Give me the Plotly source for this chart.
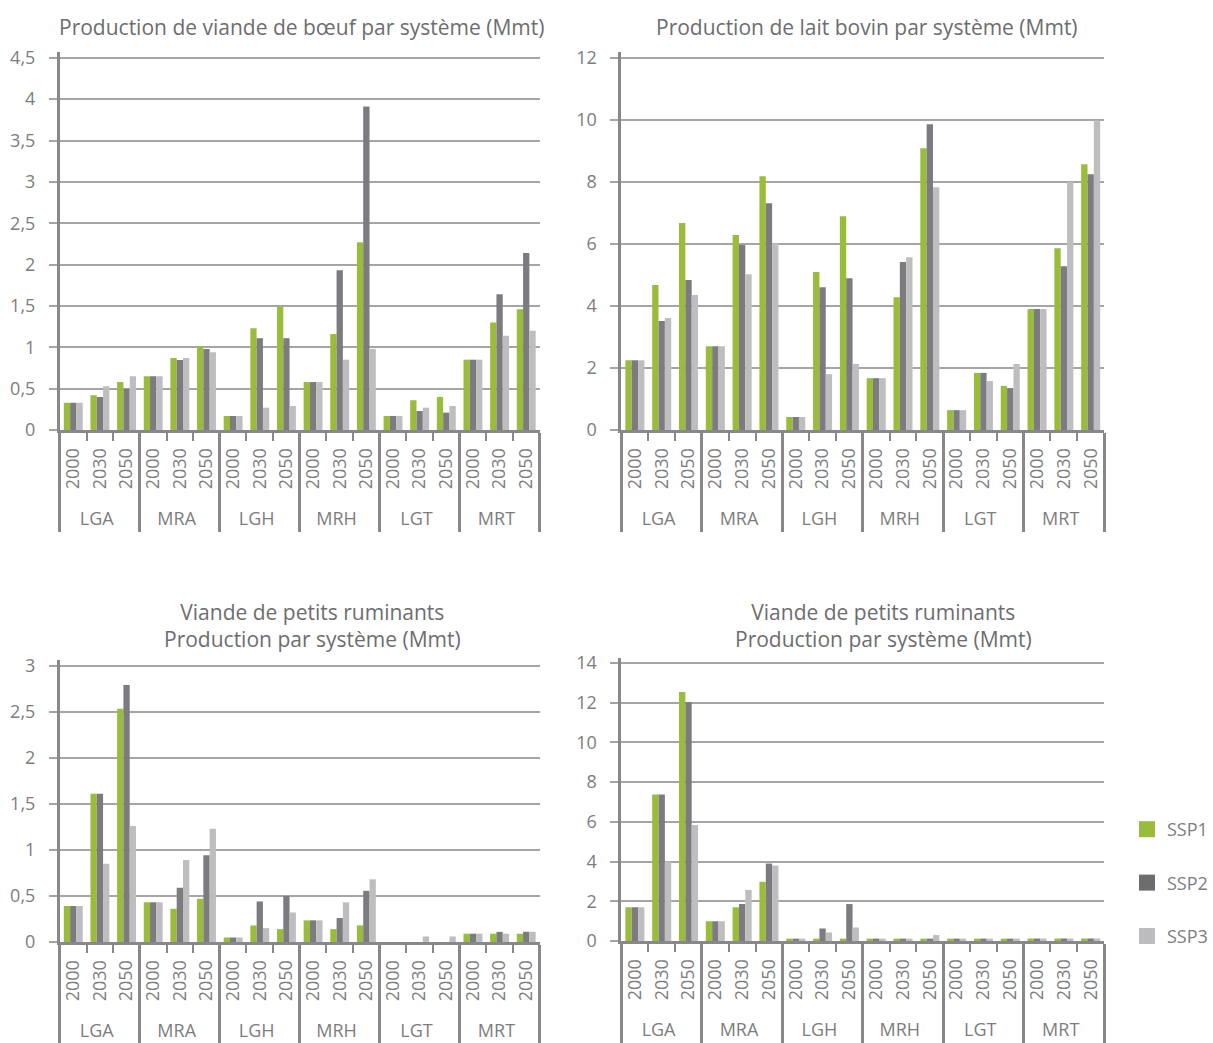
import plotly.graph_objects as go

groups = ["LGA", "MRA", "LGH", "MRH", "LGT", "MRT"]
years = ["2000", "2030", "2050"]
series_names = ["SSP1", "SSP2", "SSP3"]

beef_ssp1 = [0.33, 0.42, 0.58, 0.65, 0.87, 1.01, 0.17, 1.23, 1.49, 0.58, 1.16, 2.27, 0.17, 0.36, 0.40, 0.85, 1.30, 1.46]
beef_ssp2 = [0.33, 0.40, 0.50, 0.65, 0.845, 0.98, 0.17, 1.11, 1.11, 0.58, 1.93, 3.91, 0.17, 0.23, 0.21, 0.85, 1.64, 2.14]
beef_ssp3 = [0.33, 0.53, 0.65, 0.65, 0.87, 0.94, 0.17, 0.27, 0.29, 0.58, 0.85, 0.98, 0.17, 0.27, 0.29, 0.85, 1.14, 1.20]

milk_ssp1 = [2.25, 4.67, 6.67, 2.70, 6.28, 8.18, 0.42, 5.09, 6.89, 1.67, 4.28, 9.08, 0.64, 1.84, 1.42, 3.90, 5.86, 8.56]
milk_ssp2 = [2.25, 3.51, 4.83, 2.70, 5.96, 7.31, 0.42, 4.60, 4.89, 1.67, 5.41, 9.85, 0.64, 1.84, 1.35, 3.90, 5.28, 8.24]
milk_ssp3 = [2.25, 3.61, 4.35, 2.70, 5.02, 6.02, 0.42, 1.80, 2.13, 1.67, 5.57, 7.82, 0.64, 1.58, 2.13, 3.90, 7.99, 9.98]

small_ssp1 = [0.39, 1.61, 2.53, 0.43, 0.36, 0.47, 0.05, 0.18, 0.14, 0.235, 0.14, 0.18, 0.0, 0.0, 0.0, 0.09, 0.09, 0.09]
small_ssp2 = [0.39, 1.61, 2.79, 0.43, 0.59, 0.94, 0.05, 0.44, 0.50, 0.235, 0.26, 0.555, 0.0, 0.0, 0.0, 0.09, 0.11, 0.11]
small_ssp3 = [0.39, 0.85, 1.26, 0.43, 0.89, 1.23, 0.05, 0.15, 0.32, 0.235, 0.43, 0.68, 0.0, 0.06, 0.06, 0.09, 0.09, 0.11]

small2_ssp1 = [1.70, 7.38, 12.54, 0.99, 1.70, 2.98, 0.12, 0.12, 0.12, 0.12, 0.12, 0.12, 0.12, 0.12, 0.12, 0.12, 0.12, 0.12]
small2_ssp2 = [1.70, 7.38, 12.03, 0.99, 1.86, 3.90, 0.12, 0.63, 1.86, 0.12, 0.12, 0.12, 0.12, 0.12, 0.12, 0.12, 0.12, 0.12]
small2_ssp3 = [1.70, 4.00, 5.84, 0.99, 2.57, 3.80, 0.12, 0.43, 0.68, 0.12, 0.12, 0.30, 0.12, 0.12, 0.12, 0.12, 0.12, 0.12]

titles = [
    "Production de viande de bœuf par système (Mmt)",
    "Production de lait bovin par système (Mmt)",
    "Viande de petits ruminants<br>Production par système (Mmt)",
    "Viande de petits ruminants<br>Production par système (Mmt)",
]

panels = [
    (beef_ssp1, beef_ssp2, beef_ssp3),
    (milk_ssp1, milk_ssp2, milk_ssp3),
    (small_ssp1, small_ssp2, small_ssp3),
    (small2_ssp1, small2_ssp2, small2_ssp3),
]
y_ranges = [(0, 4.57, 0.5), (0, 12.18, 2), (0, 3.06, 0.5), (0, 14.25, 2)]

colors = ["#99BC3A", "#7C7C80", "#BEBEC0"]
legend_colors = ["#99BC3A", "#6C6C71", "#BCBCBF"]
FONT = "Open Sans"
TXT = "#7d7d80"
GRID = "#a5a5a8"
AXIS = "#88888b"

W, H = 1213, 1043


def fx(px):
    return px / W


def fy(py):
    return 1 - py / H


# plot area pixel boxes: (x0, x1, ytop, ybottom)
boxes = [(60, 540, 52, 430), (622, 1105, 52, 430), (60, 540, 660, 942), (622, 1105, 658, 941)]

# leading non-breaking spaces add room between the rotated years and the group names
year_labels = ["\u00a0\u00a0" + y for y in years]
x_cat = [[g for g in groups for _ in years], [y for _ in groups for y in year_labels]]

fig = go.Figure()
for i, (vals, box, yr) in enumerate(zip(panels, boxes, y_ranges)):
    sfx = "" if i == 0 else str(i + 1)
    for k in range(3):
        fig.add_trace(go.Bar(
            x=x_cat, y=vals[k], name=series_names[k],
            marker=dict(color=colors[k], line=dict(width=0)),
            xaxis="x" + sfx, yaxis="y" + sfx,
            showlegend=False, legendgroup=series_names[k],
        ))
    x0, x1, yt, yb = box
    fig.layout["xaxis" + sfx] = dict(
        domain=[fx(x0), fx(x1)], anchor="y" + sfx, type="multicategory",
        tickangle=-90, tickfont=dict(family=FONT, size=18, color=TXT),
        showline=True, linecolor=AXIS, linewidth=3,
        ticks="outside", ticklen=8, tickcolor=AXIS, tickwidth=1.5,
        tickson="boundaries", showdividers=True, dividercolor=AXIS, dividerwidth=2.5,
        ticklabelstandoff=8,
        showgrid=False, automargin=False,
    )
    fig.layout["yaxis" + sfx] = dict(
        domain=[fy(yb), fy(yt)], anchor="x" + sfx,
        range=[yr[0], yr[1]], dtick=yr[2], tick0=0,
        showgrid=True, gridcolor=GRID, gridwidth=1.5,
        showline=True, linecolor=AXIS, linewidth=3,
        ticks="outside", ticklen=8, tickcolor=GRID, tickwidth=1.5,
        ticklabelstandoff=10,
        tickfont=dict(family=FONT, size=18, color=TXT),
        zeroline=False, automargin=False,
    )

# legend entries (square swatches)
for k in range(3):
    fig.add_trace(go.Scatter(
        x=[None], y=[None], mode="markers", name=series_names[k],
        marker=dict(symbol="square", size=16, color=legend_colors[k]),
        legendgroup=series_names[k], showlegend=True, xaxis="x4", yaxis="y4",
    ))

title_pos = [(302, 27), (868, 27), (313, 625), (884, 625)]
annotations = [
    dict(text=t, x=fx(px), y=fy(py), xref="paper", yref="paper", showarrow=False,
         font=dict(family=FONT, size=21, color="#6d6d70"), xanchor="center", yanchor="middle")
    for t, (px, py) in zip(titles, title_pos)
]

fig.update_layout(
    width=W, height=H, autosize=False,
    margin=dict(l=0, r=0, t=0, b=0),
    paper_bgcolor="white", plot_bgcolor="white",
    barmode="group", bargap=0.29, bargroupgap=0,
    separators=", ",
    annotations=annotations,
    legend=dict(x=fx(1128), y=fy(883), xanchor="left", yanchor="middle",
                font=dict(family=FONT, size=18, color=TXT), tracegroupgap=27,
                itemwidth=30, bgcolor="rgba(0,0,0,0)"),
    font=dict(family=FONT, color=TXT),
)

fig.write_html(
    "out.html",
    config={"displayModeBar": False},
    post_script="document.body.style.margin='0';document.body.style.overflow='hidden';",
)
